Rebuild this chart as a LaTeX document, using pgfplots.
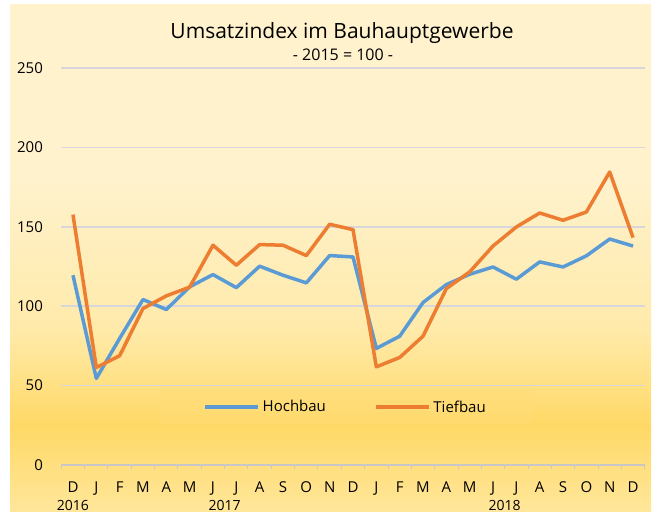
\documentclass[border=0pt]{standalone}
\usepackage{pgfplots}
\pgfplotsset{compat=1.18}
\usepackage{fontspec}
\setmainfont{Open Sans}
\definecolor{bgtop}{HTML}{FFF2CC}
\definecolor{bgmid}{HTML}{FFEAAA}
\definecolor{bggold}{HTML}{FFD966}
\definecolor{bgbot}{HTML}{FFE699}
\definecolor{hoch}{HTML}{5B9BD5}
\definecolor{tief}{HTML}{ED7D31}
\definecolor{gridc}{HTML}{D6D6DC}
\definecolor{axc}{HTML}{C8C8C8}
\definecolor{legc}{HTML}{FFDC78}
\pgfdeclareverticalshading{bgshade}{100bp}{color(0bp)=(bgbot); color(25.2bp)=(bgbot); color(33.6bp)=(bggold); color(43bp)=(bgmid); color(57.7bp)=(bgtop); color(100bp)=(bgtop)}
\pgfplotstableread{
i hoch tief
0 119.5 157.7
1 54.5 61.4
2 79.7 68.8
3 104.2 98.5
4 97.9 106.5
5 112.2 112.0
6 119.9 138.4
7 111.7 125.8
8 125.2 138.8
9 119.5 138.4
10 114.7 131.9
11 131.9 151.6
12 131.0 148.2
13 73.4 61.8
14 81.1 67.7
15 102.3 81.1
16 113.6 111.1
17 120.1 121.6
18 124.7 137.9
19 117.0 149.9
20 127.9 158.7
21 124.7 154.1
22 131.7 159.3
23 142.3 184.5
24 137.9 143.2
}\datatable
\begin{document}
\begin{tikzpicture}
\path (0bp,0bp) rectangle (659bp,515bp);
\shade[shading=bgshade] (10bp,3bp) rectangle (651bp,510bp);
\node[font=\fontsize{21bp}{24bp}\selectfont] at (342bp,482bp) {Umsatzindex im Bauhauptgewerbe};
\node[font=\fontsize{16bp}{18bp}\selectfont] at (343bp,460bp) {- 2015 = 100 -};
\begin{axis}[
  at={(61.3bp,50bp)}, anchor=south west,
  scale only axis, width=583.4bp, height=397bp,
  xmin=-0.5, xmax=24.5, ymin=0, ymax=250,
  clip=false,
  axis x line*=bottom, axis y line*=left,
  y axis line style={draw=none},
  x axis line style={draw=axc, line width=1.5bp},
  ytick={0,50,...,250},
  ymajorgrids, grid style={draw=gridc, line width=1.5bp},
  ytick style={draw=none},
  xtick={0,...,24},
  xticklabels={D,J,F,M,A,M,J,J,A,S,O,N,D,J,F,M,A,M,J,J,A,S,O,N,D},
  major x tick style={draw=none},
  minor xtick={-0.5,0.5,...,24.5},
  minor x tick style={draw=axc, line width=1bp},
  minor tick length=4bp,
  tick align=outside,
  /pgf/number format/assume math mode=true,
  tick label style={font=\fontsize{15bp}{17bp}\selectfont, inner sep=0pt},
  yticklabel style={anchor=east, xshift=-14bp},
  xticklabel style={anchor=north, yshift=-12bp},
  legend columns=2,
  legend style={at={(rel axis cs:0.488,0.146)}, anchor=center, fill=legc, fill opacity=0.45, text opacity=1, draw=none,
    inner xsep=44bp, inner ysep=8bp, font=\fontsize{15bp}{17bp}\selectfont,
    nodes={inner sep=2.5bp},
    /tikz/every even column/.append style={column sep=46bp}},
  legend image code/.code={\draw[#1, line width=3.5bp] (0bp,0bp) -- (53bp,0bp);},
]
\addplot[hoch, line width=3.5bp, line join=round] table[x=i,y=hoch] {\datatable};
\addlegendentry{Hochbau}
\addplot[tief, line width=3.5bp, line join=round] table[x=i,y=tief] {\datatable};
\addlegendentry{Tiefbau}
\node[font=\fontsize{14bp}{16bp}\selectfont] at (axis cs:0,0) [yshift=-40bp] {2016};
\node[font=\fontsize{14bp}{16bp}\selectfont] at (axis cs:6.5,0) [yshift=-40bp] {2017};
\node[font=\fontsize{14bp}{16bp}\selectfont] at (axis cs:18.5,0) [yshift=-40bp] {2018};
\end{axis}
\end{tikzpicture}
\end{document}
